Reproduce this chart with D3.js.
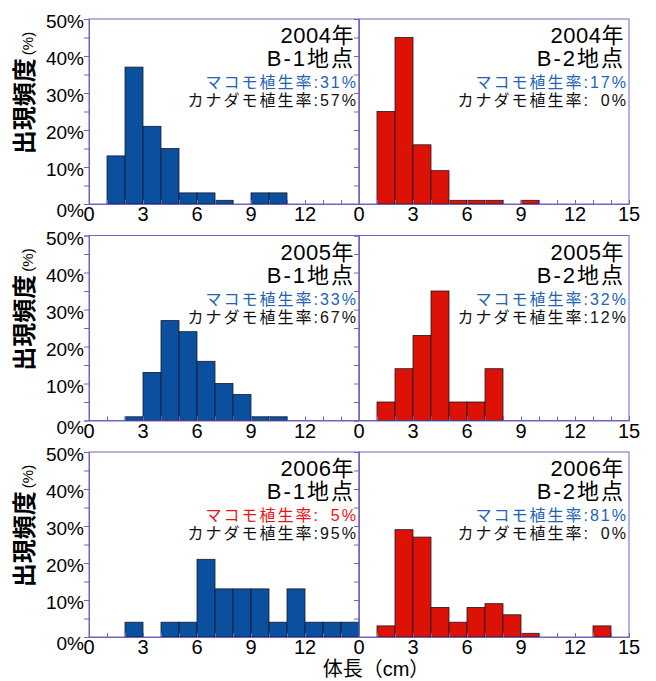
<!DOCTYPE html>
<html>
<head>
<meta charset="utf-8">
<script src="https://cdn.jsdelivr.net/npm/d3@7"></script>
<style>
  body { margin: 0; background: #fff; }
  text { font-family: "Liberation Sans", "Noto Sans CJK JP", sans-serif; }
</style>
</head>
<body>
<script>
// bins are 1 cm wide, starting at 0 cm
var bins = d3.range(0, 15);
var years = ["2004年", "2005年", "2006年"];
var sites = ["B-1地点", "B-2地点"];

// frequency (%) per bin
var b1_2004 = [0, 13, 37, 21, 15, 3, 3, 1, 0, 3, 3, 0, 0, 0, 0];
var b2_2004 = [0, 25, 45, 16, 9, 1, 1, 1, 0, 1, 0, 0, 0, 0, 0];
var b1_2005 = [0, 0, 1, 13, 27, 24, 16, 10, 7, 1, 1, 0, 0, 0, 0];
var b2_2005 = [0, 5, 14, 23, 35, 5, 5, 14, 0, 0, 0, 0, 0, 0, 0];
var b1_2006 = [0, 0, 4, 0, 4, 4, 21, 13, 13, 13, 4, 13, 4, 4, 4];
var b2_2006 = [0, 3, 29, 27, 8, 4, 8, 9, 6, 1, 0, 0, 0, 3, 0];

// vegetation cover (%): makomo, kanadamo
var makomo   = [[31, 17], [33, 32], [5, 81]];
var kanadamo = [[57, 0], [67, 12], [95, 0]];

var yTicks = [0, 10, 20, 30, 40, 50];
var xTicks = [0, 3, 6, 9, 12, 15];

var series = [[b1_2004, b2_2004], [b1_2005, b2_2005], [b1_2006, b2_2006]];

var W = 656, H = 681;
var left = 89, pw = 270, ph = 185;
var rowTop = [19, 235.5, 452];
var axisCol = "#7262c4";
var barCol = ["#0b4f9f", "#dc1206"];

var svg = d3.select("body").append("svg")
    .attr("width", W)
    .attr("height", H);

var y = d3.scaleLinear().domain([0, 50]).range([ph, 0]);
var x = d3.scaleLinear().domain([0, 15]).range([0, pw]);

function pad(v) {
    return (v < 10 ? "\u2007" : "") + v + "%";
}

series.forEach(function(row, r) {
    row.forEach(function(vals, c) {
        var g = svg.append("g")
            .attr("transform", "translate(" + (left + c * pw) + "," + rowTop[r] + ")");

        // frame
        g.append("rect")
            .attr("width", pw).attr("height", ph)
            .attr("fill", "none")
            .attr("stroke", axisCol).attr("stroke-width", 1);

        // bars
        g.selectAll("rect.bar")
            .data(bins.filter(function(i) { return vals[i] > 0; }))
          .enter().append("rect")
            .attr("class", "bar")
            .attr("x", function(i) { return x(i); })
            .attr("y", function(i) { return y(vals[i]); })
            .attr("width", x(1) - x(0))
            .attr("height", function(i) { return ph - y(vals[i]); })
            .attr("fill", barCol[c])
            .attr("stroke", "#1a1a2a").attr("stroke-width", 0.8);

        // y axis, ticks every 5%
        var ya = g.append("g")
            .call(d3.axisLeft(y).tickValues(d3.range(0, 51, 5)).tickSize(5).tickFormat(""));
        ya.select(".domain").attr("stroke", axisCol);
        ya.selectAll(".tick line").attr("stroke", axisCol);

        // x axis, minor ticks inward every 1 cm
        var xa = g.append("g")
            .attr("transform", "translate(0," + ph + ")")
            .call(d3.axisTop(x).tickValues(d3.range(0, 16)).tickSize(4).tickFormat(""));
        xa.select(".domain").attr("stroke", axisCol);
        xa.selectAll(".tick line").attr("stroke", axisCol);

        // x tick labels
        g.selectAll("text.xt")
            .data(c === 0 ? xTicks.slice(0, 5) : xTicks)
          .enter().append("text")
            .attr("class", "xt")
            .attr("x", function(d) { return x(d); })
            .attr("y", ph + 17)
            .attr("text-anchor", "middle")
            .attr("font-size", 20)
            .text(function(d) { return d; });

        // y tick labels only on left column
        if (c === 0) {
            g.selectAll("text.yt")
                .data(yTicks)
              .enter().append("text")
                .attr("class", "yt")
                .attr("x", -5)
                .attr("y", function(d) { return y(d) + (d === 0 ? 13 : 9); })
                .attr("text-anchor", "end")
                .attr("font-size", 19)
                .text(function(d) { return d + "%"; });

            var yl = svg.append("text")
                .attr("transform", "translate(" + 33 + "," + (rowTop[r] + 74) + ") rotate(-90)")
                .attr("text-anchor", "middle")
                .attr("font-size", 24)
                .attr("font-weight", "bold")
                .attr("font-family", "Noto Sans CJK JP");
            yl.append("tspan").text("出現頻度");
            yl.append("tspan").attr("font-size", 15).attr("font-weight", "normal").attr("dx", 3).text("(%)");
        }

        // titles
        var tx = pw - 5;
        g.append("text")
            .attr("x", tx).attr("y", 24)
            .attr("text-anchor", "end")
            .attr("font-size", 22)
            .attr("font-family", "Noto Sans CJK JP")
            .attr("letter-spacing", 0.5)
            .text(years[r]);
        g.append("text")
            .attr("x", tx + 1).attr("y", 47)
            .attr("text-anchor", "end")
            .attr("font-size", 22)
            .attr("font-family", "Noto Sans CJK JP")
            .attr("letter-spacing", 2)
            .text(sites[c]);

        var mk = makomo[r][c];
        g.append("text")
            .attr("x", tx + 4).attr("y", 69)
            .attr("text-anchor", "end")
            .attr("font-size", 16)
            .attr("letter-spacing", 2)
            .attr("fill", mk < 10 ? "#ee1111" : "#2263b5")
            .text("マコモ植生率:" + pad(mk));
        g.append("text")
            .attr("x", tx + 4).attr("y", 87)
            .attr("text-anchor", "end")
            .attr("font-size", 16)
            .attr("letter-spacing", 2)
            .attr("fill", "#111")
            .text("カナダモ植生率:" + pad(kanadamo[r][c]));
    });
});

// x axis title
svg.append("text")
    .attr("x", 376).attr("y", 676)
    .attr("text-anchor", "middle")
    .attr("font-size", 20)
    .attr("font-family", "Noto Sans CJK JP")
    .text("体長（cm）");
</script>
</body>
</html>
